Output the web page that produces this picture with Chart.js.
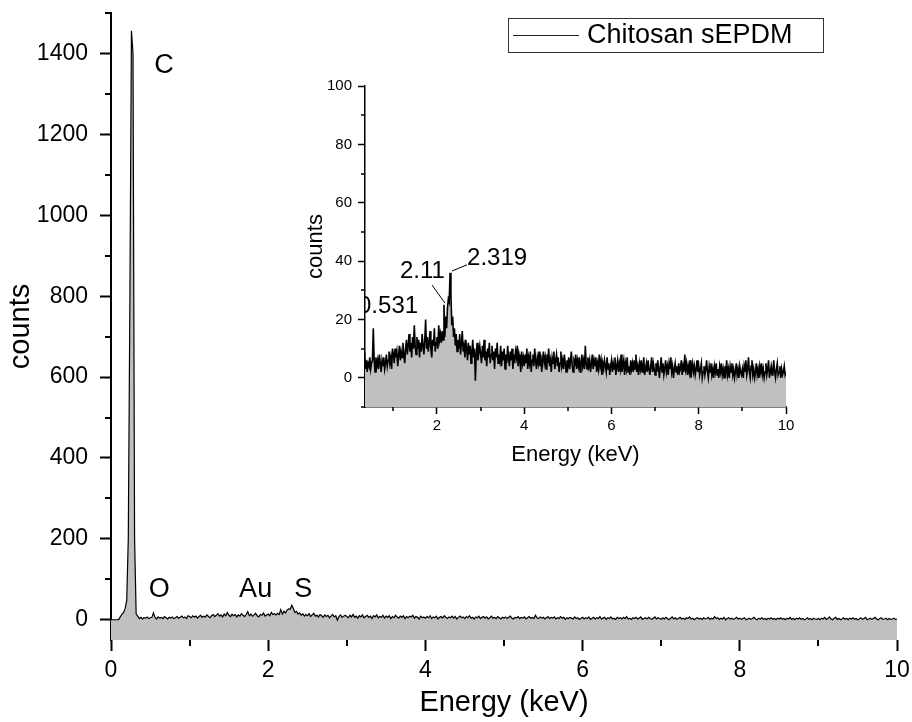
<!DOCTYPE html>
<html lang="en">
<head>
<meta charset="UTF-8">
<title>EDS spectrum - Chitosan sEPDM</title>
<script src="https://cdn.jsdelivr.net/npm/chart.js@4.4.0/dist/chart.umd.min.js"></script>
<style>
  body { margin: 0; background: #fff; }
  #wrap { position: relative; width: 912px; height: 722px; }
  canvas { position: absolute; left: 0; top: 0; }
</style>
</head>
<body>
<div id="wrap">
  <canvas id="mainChart" width="912" height="722"></canvas>
  <canvas id="insetChart" width="912" height="722"></canvas>
</div>
<script>
// spectrum (one value per 0.02 keV channel, 0 .. 10 keV)
const seriesLabel = 'Chitosan sEPDM';
const channelWidth = 0.02;
const counts = [
  0,0,0,0,0,1,8,14,18,28,48,200,780,1456,1400,200,14,9,3,6,2,5,4,7,3,
  5,6,17,6,2,7,4,6,3,8,5,2,6,4,7,3,5,8,4,6,9,5,7,3,10,
  8,5,10,7,9,4,8,11,6,9,7,12,8,5,10,13,8,11,15,9,12,7,14,10,18,
  11,8,14,10,13,7,12,9,15,11,8,13,20,10,14,9,12,16,10,7,13,11,17,9,12,
  14,10,18,13,15,12,16,13,25,14,21,17,24,27,26,36,28,18,21,14,17,11,15,9,13,
  10,15,8,12,16,9,11,7,13,10,6,12,8,11,5,9,13,7,10,-1,8,12,6,9,11,
  8,5,11,7,13,6,9,4,10,7,12,5,8,11,6,9,3,10,7,12,5,8,6,11,4,
  9,6,10,3,8,5,11,7,4,9,6,10,3,8,5,9,7,11,4,8,6,2,9,5,7,
  4,8,5,10,3,7,5,9,2,6,8,4,10,6,3,7,5,9,4,8,2,6,9,5,7,
  3,8,5,10,4,6,2,7,5,9,3,6,8,4,7,2,5,9,4,6,3,8,5,2,6,
  4,7,3,6,9,4,2,6,5,8,3,6,4,7,2,5,8,4,6,3,11,5,3,7,4,
  6,2,5,8,3,6,4,7,2,5,3,8,4,6,1,5,3,6,4,2,7,3,5,1,4,
  6,2,5,3,7,1,4,6,2,5,3,8,2,4,6,1,5,3,7,2,4,1,6,3,5,
  2,6,3,8,2,4,1,5,3,6,2,4,7,1,3,5,2,6,3,1,4,7,2,5,3,
  1,5,2,6,3,0,4,7,2,5,1,3,6,2,4,1,5,3,7,2,4,0,3,5,2,
  4,1,5,2,3,6,1,4,2,8,3,5,1,4,2,6,0,3,5,2,4,1,3,6,2,
  4,1,3,5,0,2,4,1,3,6,2,0,4,2,5,1,3,0,4,2,5,1,3,0,4,
  2,5,1,3,0,4,2,6,1,3,0,4,2,5,1,3,0,2,5,1,3,0,4,2,1,
  3,0,4,2,6,1,3,7,2,0,4,6,1,3,0,2,5,1,3,0,4,2,5,1,3,
  0,2,5,1,3,6,0,2,4,1,3,6,2,0,3,5,1,2,4,0,3,1,2,4,1,
  2
];

const mainXTicks = [0, 2, 4, 6, 8, 10];
const mainXMinor = [1, 3, 5, 7, 9];
const mainYTicks = [0, 200, 400, 600, 800, 1000, 1200, 1400];
const mainYMinor = [100, 300, 500, 700, 900, 1100, 1300, 1500];
const insetXTicks = [2, 4, 6, 8, 10];
const insetXMinor = [1, 3, 5, 7, 9];
const insetYTicks = [0, 20, 40, 60, 80, 100];
const insetYMinor = [-10, 10, 30, 50, 70, 90];

const mainPeakNames = ['C', 'O', 'Au', 'S'];
const insetPeakNames = ['0.531', '2.11', '2.319'];

const FONT = "'Liberation Sans', Arial, sans-serif";
Chart.defaults.font.family = FONT;
Chart.defaults.color = '#000';

const points = counts.map((c, i) => ({ x: +(i * channelWidth).toFixed(2), y: c }));

// keep the axes boxes at fixed sizes so the plot area lands where the original is
function fixSize(w, h) {
  return s => {
    if (w != null) s.width = w;
    if (h != null) s.height = h;
    s.paddingTop = 0; s.paddingBottom = 0; s.paddingLeft = 0; s.paddingRight = 0;
  };
}
function setTicks(list) {
  return s => { s.ticks = list.map(v => ({ value: v })); };
}
const plainNumber = v => String(v);

const minorTicks = {
  id: 'minorTicks',
  afterDraw(chart, args, o) {
    const ctx = chart.ctx, a = chart.chartArea;
    ctx.save();
    ctx.strokeStyle = '#000';
    ctx.lineWidth = o.width;
    o.x.forEach(v => {
      const p = Math.round(chart.scales.x.getPixelForValue(v));
      ctx.beginPath(); ctx.moveTo(p, a.bottom); ctx.lineTo(p, a.bottom + o.len); ctx.stroke();
    });
    o.y.forEach(v => {
      const p = Math.round(chart.scales.y.getPixelForValue(v));
      ctx.beginPath(); ctx.moveTo(a.left, p); ctx.lineTo(a.left - o.len, p); ctx.stroke();
    });
    ctx.restore();
  }
};

const peakLabels = {
  id: 'peakLabels',
  afterDatasetsDraw(chart, args, o) {
    const ctx = chart.ctx, xs = chart.scales.x, ys = chart.scales.y, a = chart.chartArea;
    ctx.save();
    ctx.beginPath(); ctx.rect(a.left, 0, chart.width - a.left, chart.height); ctx.clip();
    ctx.font = o.font;
    ctx.fillStyle = '#000';
    ctx.textAlign = 'left';
    ctx.textBaseline = 'alphabetic';
    o.texts.forEach((t, i) => ctx.fillText(t, xs.getPixelForValue(o.at[i][0]), ys.getPixelForValue(o.at[i][1])));
    ctx.strokeStyle = '#000';
    ctx.lineWidth = 1;
    (o.leaders || []).forEach(l => {
      ctx.beginPath();
      ctx.moveTo(xs.getPixelForValue(l[0]), ys.getPixelForValue(l[1]));
      ctx.lineTo(xs.getPixelForValue(l[2]), ys.getPixelForValue(l[3]));
      ctx.stroke();
    });
    ctx.restore();
  }
};

const boxLegend = {
  id: 'boxLegend',
  afterDraw(chart, args, o) {
    const ctx = chart.ctx, a = chart.chartArea;
    const x = a.right + o.dx, y = a.top + o.dy;
    ctx.save();
    ctx.fillStyle = '#fff';
    ctx.fillRect(x, y, o.w, o.h);
    ctx.strokeStyle = '#333';
    ctx.lineWidth = 1;
    ctx.strokeRect(x + 0.5, y + 0.5, o.w, o.h);
    ctx.strokeStyle = '#222';
    ctx.beginPath();
    ctx.moveTo(x + 5, y + o.h / 2 + 0.5); ctx.lineTo(x + 71, y + o.h / 2 + 0.5);
    ctx.stroke();
    ctx.font = o.font;
    ctx.fillStyle = '#000';
    ctx.textBaseline = 'middle';
    ctx.fillText(chart.data.datasets[0].label, x + 79, y + o.h / 2 + 1);
    ctx.restore();
  }
};

function spectrumDataset(width) {
  return {
    label: seriesLabel,
    data: points,
    borderColor: '#000',
    borderWidth: width,
    backgroundColor: '#c0c0c0',
    fill: 'start',
    pointRadius: 0,
    tension: 0
  };
}

new Chart(document.getElementById('mainChart'), {
  type: 'line',
  data: { datasets: [spectrumDataset(1.2)] },
  options: {
    responsive: false,
    animation: false,
    devicePixelRatio: 1,
    layout: { padding: { left: 4, top: 13, right: 15, bottom: 2 } },
    plugins: {
      legend: { display: false },
      tooltip: { enabled: false },
      minorTicks: { x: mainXMinor, y: mainYMinor, len: 6, width: 2 },
      peakLabels: {
        font: '27px ' + FONT,
        texts: mainPeakNames,
        at: [[0.55, 1352], [0.48, 56], [1.63, 56], [2.33, 56]]
      },
      boxLegend: { dx: -389, dy: 5, w: 315, h: 34, font: '27px ' + FONT }
    },
    scales: {
      x: {
        type: 'linear', min: 0, max: 10, z: 1,
        afterBuildTicks: setTicks(mainXTicks),
        afterFit: fixSize(null, 80),
        border: { display: false },
        grid: { drawOnChartArea: false, drawTicks: true, tickLength: 11, tickWidth: 2, tickColor: '#000' },
        ticks: { font: { size: 23 }, padding: 6, maxRotation: 0, autoSkip: false, callback: plainNumber },
        title: { display: true, text: 'Energy (keV)', font: { size: 29 }, padding: 0 }
      },
      y: {
        type: 'linear', min: -50, max: 1500, z: 1,
        afterBuildTicks: setTicks(mainYTicks),
        afterFit: fixSize(107, null),
        border: { display: true, color: '#000', width: 2 },
        grid: { drawOnChartArea: false, drawTicks: true, tickLength: 11, tickWidth: 2, tickColor: '#000' },
        ticks: { font: { size: 23 }, padding: 12, callback: plainNumber },
        title: { display: true, text: 'counts', font: { size: 29 }, padding: 0 }
      }
    }
  },
  plugins: [minorTicks, peakLabels, boxLegend]
});

new Chart(document.getElementById('insetChart'), {
  type: 'line',
  data: { datasets: [spectrumDataset(1.6)] },
  options: {
    responsive: false,
    animation: false,
    devicePixelRatio: 1,
    layout: { padding: { left: 303, top: 86, right: 126, bottom: 254 } },
    plugins: {
      legend: { display: false },
      tooltip: { enabled: false },
      minorTicks: { x: insetXMinor, y: insetYMinor, len: 4, width: 1.5 },
      peakLabels: {
        font: '24px ' + FONT,
        texts: insetPeakNames,
        at: [[0.19, 22.2], [1.15, 34.2], [2.69, 38.7]],
        leaders: [[1.886, 31.8, 2.184, 25.6], [2.344, 36.6, 2.688, 38.7]]
      }
    },
    scales: {
      x: {
        type: 'linear', min: 0.35, max: 10, z: 1,
        afterBuildTicks: setTicks(insetXTicks),
        afterFit: fixSize(null, 61),
        border: { display: true, color: '#000', width: 1.5 },
        grid: { drawOnChartArea: false, drawTicks: true, tickLength: 7, tickWidth: 1.5, tickColor: '#000' },
        ticks: { font: { size: 15 }, padding: 3, maxRotation: 0, autoSkip: false, callback: plainNumber },
        title: { display: true, text: 'Energy (keV)', font: { size: 22 }, padding: 0 }
      },
      y: {
        type: 'linear', min: -10, max: 100, z: 1,
        afterBuildTicks: setTicks(insetYTicks),
        afterFit: fixSize(62, null),
        border: { display: true, color: '#000', width: 1.5 },
        grid: { drawOnChartArea: false, drawTicks: true, tickLength: 7, tickWidth: 1.5, tickColor: '#000' },
        ticks: { font: { size: 15 }, padding: 6, callback: plainNumber },
        title: { display: true, text: 'counts', font: { size: 22 }, padding: 0 }
      }
    }
  },
  plugins: [minorTicks, peakLabels]
});
</script>
</body>
</html>
